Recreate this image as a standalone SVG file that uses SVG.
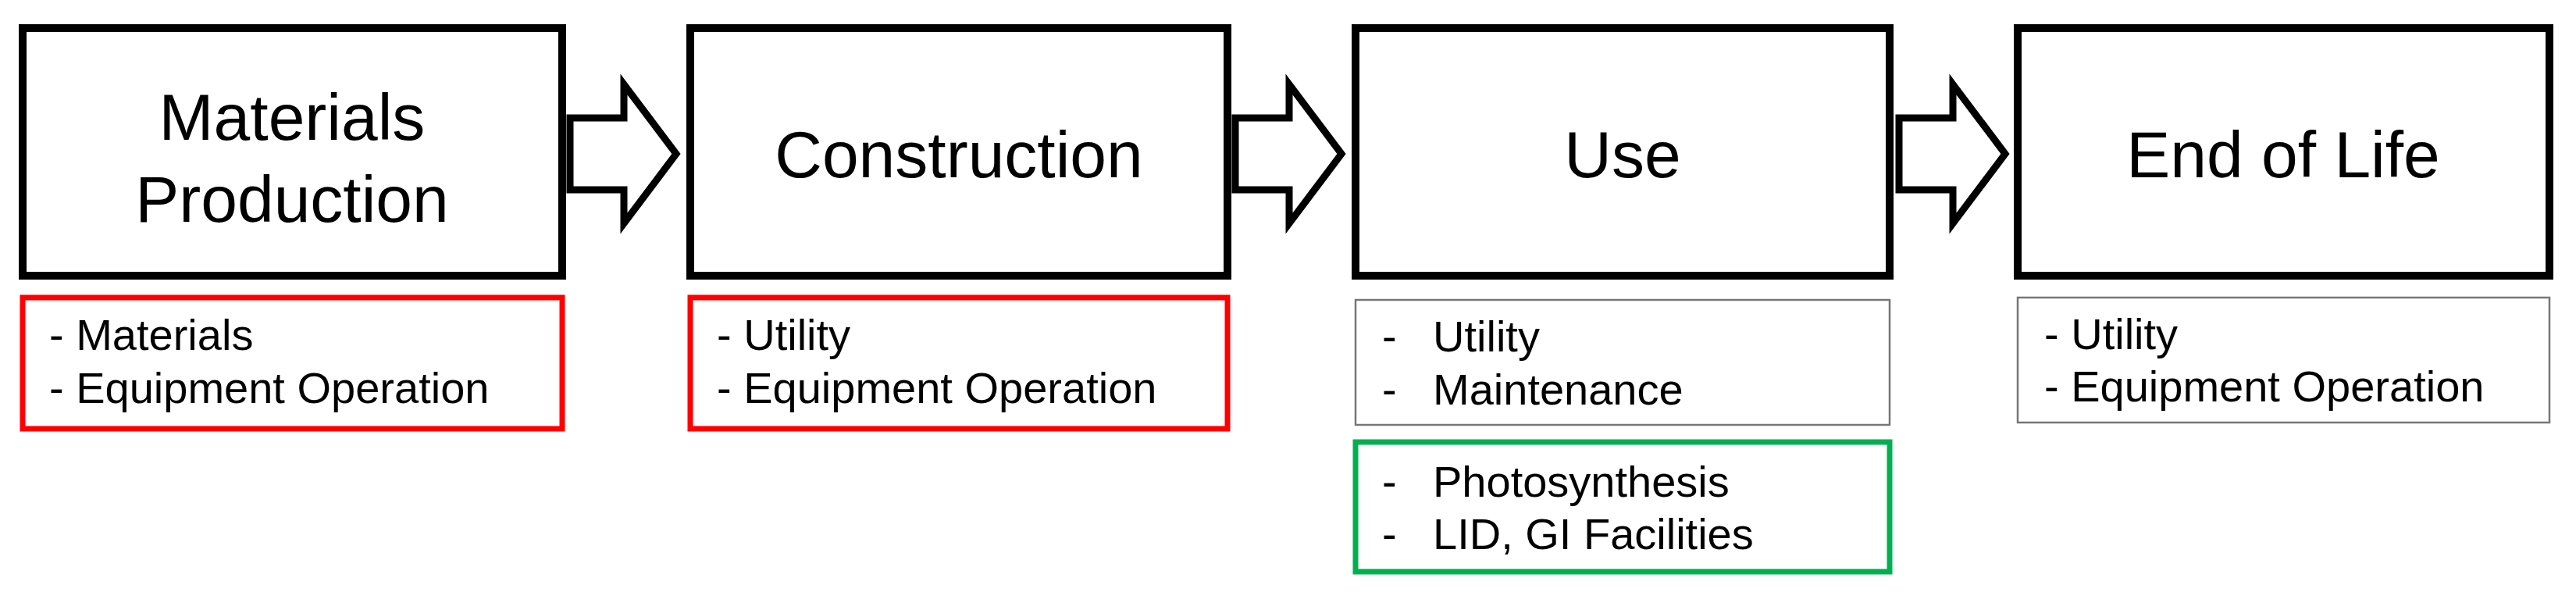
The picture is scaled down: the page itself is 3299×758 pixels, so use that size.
<svg xmlns="http://www.w3.org/2000/svg" width="3299" height="758" viewBox="0 0 3299 758">
<style>
.stage{fill:#fff;stroke:#000;stroke-width:10}
.t{font-family:"Liberation Sans",Arial,sans-serif;font-size:84px;text-anchor:middle;fill:#000}
.s{font-family:"Liberation Sans",Arial,sans-serif;font-size:56px;fill:#000}
.red{fill:#fff;stroke:#f00;stroke-width:7}
.green{fill:#fff;stroke:#00b050;stroke-width:7}
.gray{fill:#fff;stroke:#777;stroke-width:2.5}
.arr{fill:#fff;stroke:#000;stroke-width:9;stroke-linejoin:miter}
</style>
<rect width="3299" height="758" fill="#fff"/>
<g id="connectors">
<path class="arr" d="M730,151 H799 V108 L866,197 L799,286 V243 H730 Z"/>
<path class="arr" d="M1582,151 H1651 V108 L1718,197 L1651,286 V243 H1582 Z"/>
<path class="arr" d="M2432,151 H2501 V108 L2568,197 L2501,286 V243 H2432 Z"/>
</g>
<g id="materials">
<rect class="stage" x="29" y="36" width="691" height="317"/>
<text class="t" x="374" y="179">Materials</text>
<text class="t" x="374" y="284">Production</text>
</g>
<g id="materials-sub">
<rect class="red" x="29" y="381" width="691" height="168"/>
<text class="s" x="63" y="448">- Materials</text>
<text class="s" x="63" y="516">- Equipment Operation</text>
</g>
<g id="construction">
<rect class="stage" x="884" y="36" width="688" height="317"/>
<text class="t" x="1228" y="227">Construction</text>
</g>
<g id="construction-sub">
<rect class="red" x="884" y="381" width="688" height="168"/>
<text class="s" x="918" y="448">- Utility</text>
<text class="s" x="918" y="516">- Equipment Operation</text>
</g>
<g id="use">
<rect class="stage" x="1736" y="36" width="684" height="317"/>
<text class="t" x="2078" y="227">Use</text>
</g>
<g id="use-sub">
<rect class="gray" x="1736" y="384" width="684" height="160"/>
<text class="s" x="1770" y="450">-</text>
<text class="s" x="1835" y="450">Utility</text>
<text class="s" x="1770" y="518">-</text>
<text class="s" x="1835" y="518">Maintenance</text>
</g>
<g id="use-green">
<rect class="green" x="1736" y="566" width="684" height="166"/>
<text class="s" x="1770" y="636">-</text>
<text class="s" x="1835" y="636">Photosynthesis</text>
<text class="s" x="1770" y="703">-</text>
<text class="s" x="1835" y="703">LID, GI Facilities</text>
</g>
<g id="end-of-life">
<rect class="stage" x="2584" y="36" width="681" height="317"/>
<text class="t" x="2924" y="227">End of Life</text>
</g>
<g id="end-of-life-sub">
<rect class="gray" x="2584" y="381" width="681" height="160"/>
<text class="s" x="2618" y="447">- Utility</text>
<text class="s" x="2618" y="514">- Equipment Operation</text>
</g>
</svg>
